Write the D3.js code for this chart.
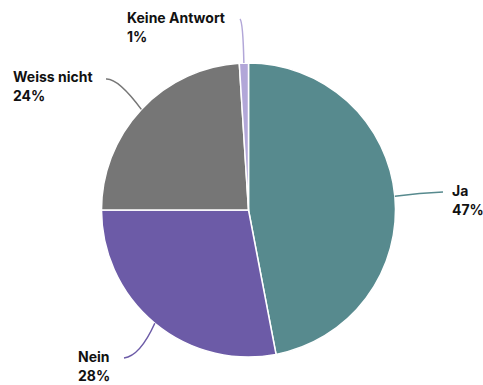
<!DOCTYPE html>
<html><head><meta charset="utf-8">
<script src="https://cdn.jsdelivr.net/npm/d3@7"></script>
<style>body{margin:0;background:#fff}svg{display:block}text{font-family:"Inter","Noto Sans",sans-serif;font-weight:700;font-size:14px;fill:#111}</style>
</head><body>
<svg id="c" width="483" height="385"></svg>
<script>
const categories = ["Ja", "Nein", "Weiss nicht", "Keine Antwort"];
const values = [47, 28, 24, 1];
const labels = ["47%", "28%", "24%", "1%"];
const colors = ["#578a8e", "#6c5ba7", "#767676", "#b2a7d8"];

// layout for leader lines / labels (end point of line, control point, text anchor)
const layout = [
  {end:[443,192], ctrl:[420,193], text:[452,196], anchor:"start"},
  {end:[124,358], ctrl:[140,356], text:[78,362], anchor:"start"},
  {end:[106,79], ctrl:[118,78], text:[13,82], anchor:"start"},
  {end:[240,19], ctrl:[243,22], text:[127,23], anchor:"start"}
];

const svg = d3.select("#c");
const cx = 248.5, cy = 210, r = 147;
const g = svg.append("g").attr("transform", `translate(${cx},${cy})`);
const pie = d3.pie().sort(null).value(d => d)(values);
const arc = d3.arc().innerRadius(0).outerRadius(r);
g.selectAll("path.s").data(pie).join("path").attr("class","s")
  .attr("d", arc).attr("fill", (d,i) => colors[i])
  .attr("stroke", "#fff").attr("stroke-width", 1.5).attr("stroke-linejoin","round");

pie.forEach((d,i) => {
  const a = (d.startAngle + d.endAngle)/2;
  const sx = cx + r*Math.sin(a), sy = cy - r*Math.cos(a);
  const L = layout[i];
  const p = d3.path();
  p.moveTo(sx, sy);
  p.quadraticCurveTo(L.ctrl[0], L.ctrl[1], L.end[0], L.end[1]);
  svg.append("path").attr("d", p.toString()).attr("fill","none")
    .attr("stroke", colors[i]).attr("stroke-width", 1.5);
  const t = svg.append("text").attr("x", L.text[0]).attr("y", L.text[1]).attr("text-anchor", L.anchor);
  t.append("tspan").attr("x", L.text[0]).text(categories[i]);
  t.append("tspan").attr("x", L.text[0]).attr("dy", 19).text(labels[i]);
});
</script>
</body></html>
